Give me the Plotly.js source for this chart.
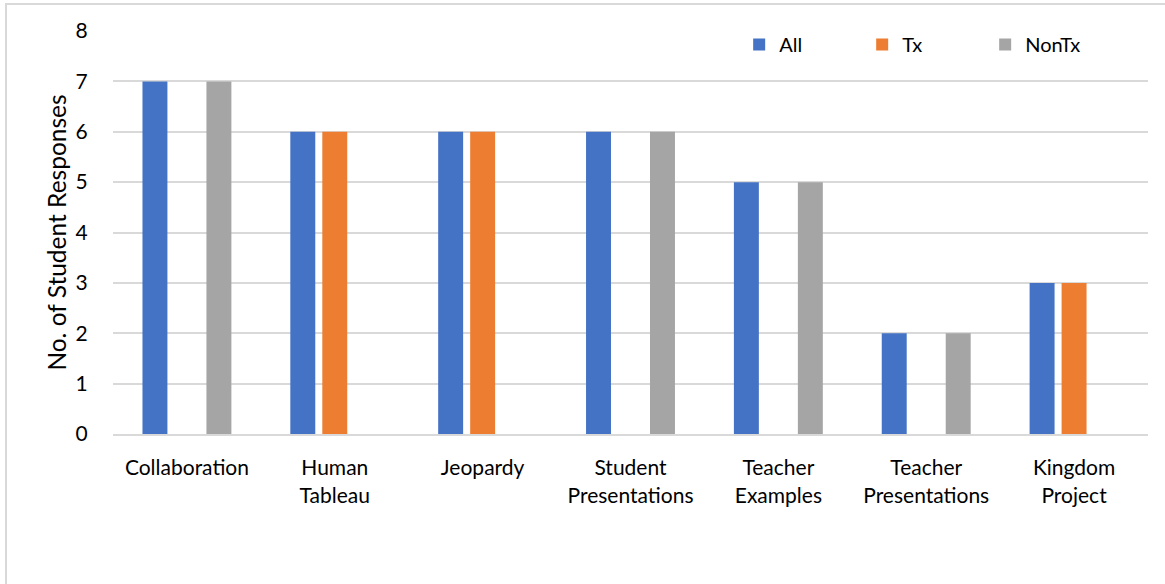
<!DOCTYPE html>
<html><head><meta charset="utf-8">
<script src="https://cdn.plot.ly/plotly-3.0.1.min.js"></script>
<style>
html,body{margin:0;padding:0;background:#fff;}
#frame{position:absolute;left:5px;top:3px;width:1160px;height:581px;border-top:2px solid #d9d9d9;border-left:2px solid #d9d9d9;box-sizing:border-box;}
#chart{position:absolute;left:0;top:0;width:1165px;height:584px;}
</style></head>
<body>
<div id="frame"></div>
<div id="chart"></div>
<script>
const categories = ["Collaboration", "Human<br>Tableau", "Jeopardy", "Student<br>Presentations", "Teacher<br>Examples", "Teacher<br>Presentations", "Kingdom<br>Project"];
const allValues = [7, 6, 6, 6, 5, 2, 3];
const txValues = [0, 6, 6, 0, 0, 0, 3];
const nonTxValues = [7, 0, 0, 6, 5, 2, 0];
const seriesNames = ["All", "Tx", "NonTx"];
const colors = ["#4472c4", "#ed7d31", "#a5a5a5"];

const fam = "Lato, 'Open Sans', sans-serif";
const font = {family: fam, size: 21, color: "#000"};
const traces = [allValues, txValues, nonTxValues].map((v, i) => ({
  type: "bar", x: categories, y: v, name: seriesNames[i],
  marker: {color: colors[i]}, hoverinfo: "skip"
}));

const layout = {
  width: 1165, height: 584,
  margin: {l: 113, r: 17, t: 31, b: 150, autoexpand: false},
  paper_bgcolor: "rgba(0,0,0,0)", plot_bgcolor: "rgba(0,0,0,0)",
  font: font,
  barmode: "group", bargap: 0.351, bargroupgap: 0.22,
  showlegend: true,
  legend: {orientation: "h", x: 0.605, xanchor: "left", y: 1.015, yanchor: "top",
    font: {family: fam, size: 20}, itemwidth: 30, traceorder: "normal",
    bgcolor: "rgba(0,0,0,0)", entrywidth: 78},
  xaxis: {type: "category", showgrid: false, showline: true, linecolor: "#d9d9d9", linewidth: 2,
    ticks: "outside", ticklen: 14, tickcolor: "rgba(0,0,0,0)", tickfont: font, fixedrange: true},
  yaxis: {range: [0, 8], dtick: 1, showgrid: true, gridcolor: "#d9d9d9", gridwidth: 2,
    zeroline: false, showline: false, ticks: "outside", ticklen: 20, tickcolor: "rgba(0,0,0,0)",
    tickfont: font, fixedrange: true,
    title: {text: "No. of Student Responses", font: {family: fam, size: 24.5, color: "#000"}, standoff: 2}}
};
Plotly.newPlot("chart", traces, layout, {displayModeBar: false, staticPlot: true});
</script>
</body></html>
